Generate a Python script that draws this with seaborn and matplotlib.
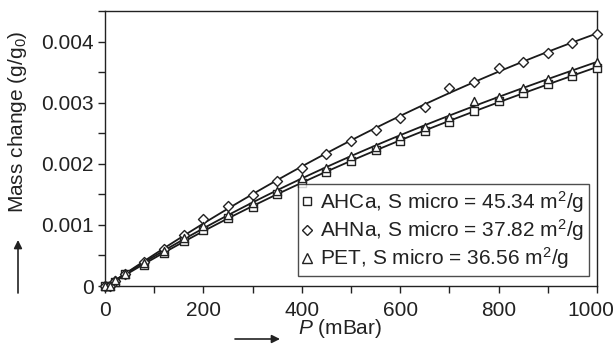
import matplotlib
matplotlib.use("Agg")
import matplotlib.pyplot as plt
import matplotlib.transforms as mtransforms
from matplotlib.lines import Line2D
from matplotlib.ticker import MultipleLocator, FuncFormatter
import numpy as np
import pandas as pd
import seaborn as sns

# Adsorption isotherms: mass change vs. pressure
pressure = [0, 10, 20, 40, 80, 120, 160, 200, 250, 300, 350, 400, 450, 500,
            550, 600, 650, 700, 750, 800, 850, 900, 950, 1000]
ahca = [0, 0, 0.00007, 0.00019, 0.00035, 0.00054, 0.00073, 0.00092, 0.00111,
        0.00129, 0.00151, 0.00169, 0.00187, 0.00205, 0.00222, 0.00237, 0.00253,
        0.00269, 0.00287, 0.00302, 0.00316, 0.00331, 0.00344, 0.00357]
ahna = [0, 0, 0.00008, 0.00020, 0.00039, 0.00060, 0.00084, 0.00109, 0.00131,
        0.00149, 0.00172, 0.00193, 0.00216, 0.00237, 0.00256, 0.00275, 0.00293,
        0.00324, 0.00334, 0.00357, 0.00367, 0.00381, 0.00397, 0.00413]
pet = [0, 0, 0.00010, 0.00020, 0.00038, 0.00058, 0.00078, 0.00098, 0.00116,
       0.00136, 0.00156, 0.00177, 0.00193, 0.00212, 0.00228, 0.00245, 0.00261,
       0.00277, 0.00303, 0.00310, 0.00324, 0.00338, 0.00352, 0.00366]
series_names = ["AHCa", "AHNa", "PET"]
series_labels = ["AHCa, S micro = 45.34 m$^2$/g",
                 "AHNa, S micro = 37.82 m$^2$/g",
                 "PET, S micro = 36.56 m$^2$/g"]
series_markers = ["s", "D", "^"]

df = pd.concat([
    pd.DataFrame({"P": pressure, "dm": vals, "sample": name})
    for name, vals in zip(series_names, [ahca, ahna, pet])
], ignore_index=True)

sns.set_style("ticks")
plt.rcParams["font.family"] = ["Liberation Sans", "DejaVu Sans"]
plt.rcParams["mathtext.fontset"] = "custom"
plt.rcParams["mathtext.rm"] = "Liberation Sans"
plt.rcParams["mathtext.it"] = "Liberation Sans:italic"
plt.rcParams["mathtext.default"] = "regular"

FS = 15
W, H = 616, 347
fig = plt.figure(figsize=(W / 100, H / 100), dpi=100)
ax = fig.add_axes([105 / W, 1 - 286 / H, 492 / W, 275 / H])

# smooth fitted curves through each isotherm
for name in series_names:
    sub = df[df["sample"] == name]
    sns.regplot(data=sub, x="P", y="dm", order=3, ci=None, scatter=False,
                ax=ax, line_kws=dict(color="#1a1a1a", lw=1.3, zorder=2))

# measured points
for name, m, s in zip(series_names, series_markers, [28, 26, 34]):
    sub = df[df["sample"] == name]
    sns.scatterplot(data=sub, x="P", y="dm", marker=m, s=s, color="white",
                    edgecolor="#222222", linewidth=1.0, ax=ax, legend=False,
                    zorder=3, clip_on=False)

ax.set_xlim(0, 1000)
ax.set_ylim(0, 0.0045)
ax.xaxis.set_major_locator(MultipleLocator(200))
ax.xaxis.set_minor_locator(MultipleLocator(100))
ax.yaxis.set_major_locator(MultipleLocator(0.001))
ax.yaxis.set_minor_locator(MultipleLocator(0.0005))
ax.yaxis.set_major_formatter(FuncFormatter(lambda v, p: "0" if abs(v) < 1e-12 else f"{v:.3f}"))
ax.tick_params(which="both", direction="out", length=5, width=1, color="#222222",
               labelsize=FS, labelcolor="#222222")
ax.tick_params(axis="x", pad=6)
ax.tick_params(axis="y", pad=3)
ax.set_xlabel("")
ax.set_ylabel("")
for sp in ax.spines.values():
    sp.set_visible(True)
    sp.set_color("#222222")
    sp.set_linewidth(1.0)

# keep the "1000" label inside the figure
fig.canvas.draw()
for tick in ax.xaxis.get_major_ticks():
    if abs(tick.get_loc() - 1000) < 1e-6:
        lab = tick.label1
        lab.set_transform(lab.get_transform()
                          + mtransforms.ScaledTranslation(-6 / 100, 0, fig.dpi_scale_trans))

handles = [Line2D([], [], ls="none", marker=m, ms=ms, mfc="white", mec="#222222", mew=1.0)
           for m, ms in zip(series_markers, [6, 5.5, 6.5])]
leg = ax.legend(handles, series_labels, loc="lower right",
                bbox_to_anchor=((589 - 105) / 492, (286 - 276) / 275),
                borderaxespad=0, fontsize=FS, frameon=True, fancybox=False,
                handlelength=0.45, handletextpad=0.4, labelspacing=0.12,
                borderpad=0.22)
leg.get_frame().set_edgecolor("#222222")
leg.get_frame().set_linewidth(1.0)
for t in leg.get_texts():
    t.set_color("#222222")


def fx(px):
    return px / W


def fy(py):
    return 1 - py / H


fig.text(fx(18), fy(122), "Mass change (g/g$_0$)", rotation=90, ha="center",
         va="center", fontsize=FS, color="#222222")
fig.text(fx(298), fy(329), "$\\mathit{P}$ (mBar)", ha="left", va="center",
         fontsize=FS, color="#222222")
ax.annotate("", xy=(fx(18), fy(240)), xytext=(fx(18), fy(293)),
            xycoords="figure fraction", textcoords="figure fraction",
            arrowprops=dict(arrowstyle="-|>", color="#222222", lw=1.2,
                            mutation_scale=12, shrinkA=0, shrinkB=0))
ax.annotate("", xy=(fx(280), fy(339)), xytext=(fx(235), fy(339)),
            xycoords="figure fraction", textcoords="figure fraction",
            arrowprops=dict(arrowstyle="-|>", color="#222222", lw=1.2,
                            mutation_scale=12, shrinkA=0, shrinkB=0))

fig.savefig("out.png", dpi=100)
